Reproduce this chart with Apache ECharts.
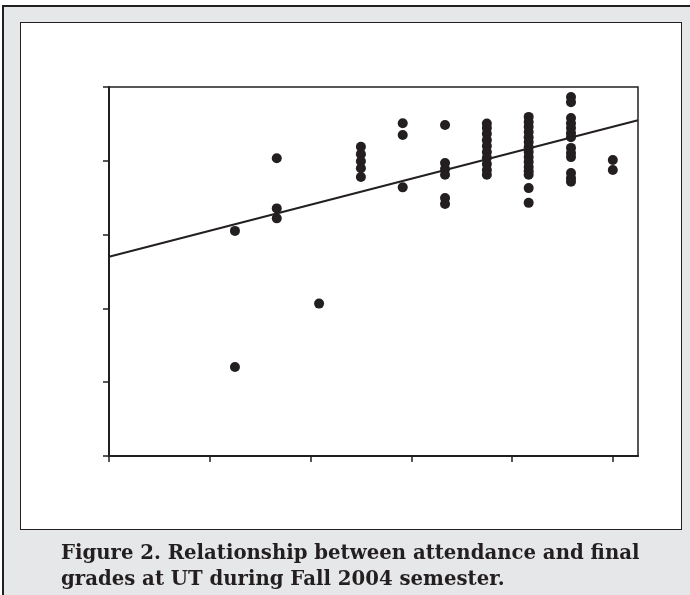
<!DOCTYPE html>
<html>
<head>
<meta charset="utf-8">
<script src="https://cdn.jsdelivr.net/npm/echarts@6/dist/echarts.min.js"></script>
<style>
  html, body { margin: 0; padding: 0; background: #fff; }
  #page { position: relative; width: 690px; height: 595px; overflow: hidden; }
  .outer { position: absolute; left: 2px; top: 5px; width: 720px; height: 720px;
           background: #e6e7e8; border: 2px solid #231f20; box-sizing: border-box; }
  .inner { position: absolute; left: 20px; top: 22px; width: 662px; height: 508px;
           background: #fff; border: 1.5px solid #231f20; box-sizing: border-box; }
  #chart { position: absolute; left: 0; top: 0; width: 690px; height: 595px; }
  .caption { position: absolute; left: 61px; top: 540px; color: #231f20;
             font-family: "DejaVu Serif", serif; font-weight: bold; font-size: 19.7px;
             line-height: 26px; white-space: nowrap; }
</style>
</head>
<body>
<div id="page">
  <div class="outer"></div>
  <div class="inner"></div>
  <div id="chart"></div>
  <div class="caption">Figure 2. Relationship between attendance and final<br>grades at UT during Fall 2004 semester.</div>
</div>
<script>
// attendance (%) for each column of dots
const attendance = [25, 33.3, 41.7, 50, 58.3, 66.7, 75, 83.3, 91.7, 100]

// final grades, one list per attendance column
const grades25 = [61.0, 24.1]
const grades33 = [80.7, 67.1, 64.4]
const grades42 = [41.3]
const grades50 = [83.8, 81.8, 79.9, 78.0, 75.6]
const grades58 = [90.2, 87.0, 72.8]
const grades67 = [89.7, 79.4, 77.8, 76.2, 69.9, 68.3]
const grades75 = [90.1, 88.9, 87.3, 85.6, 84.0, 82.4, 80.8, 79.1, 77.5, 76.2]
const grades83 = [91.9, 90.5, 89.2, 87.8, 86.4, 85.1, 83.7, 82.4, 81.0, 79.7, 78.3, 77.2, 76.2, 72.6, 68.6]
const grades92 = [97.3, 95.9, 91.6, 90.2, 88.9, 87.5, 86.4, 83.5, 82.1, 81.0, 76.7, 75.3, 74.3]
const grades100 = [80.2, 77.5]

// trend line end points
const trendX = [0, 105]
const trendY = [54.0, 91.0]

const xTicks = [0, 20, 40, 60, 80, 100]

const gradeColumns = [grades25, grades33, grades42, grades50, grades58,
  grades67, grades75, grades83, grades92, grades100]

const points = []
gradeColumns.forEach((col, i) => {
  col.forEach(g => points.push([attendance[i], g]))
})

const ink = '#231f20'
const chart = echarts.init(document.getElementById('chart'))

const option = {
  animation: false,
  backgroundColor: 'transparent',
  grid: {
    left: 109,
    top: 87,
    width: 529,
    height: 369,
    show: true,
    borderColor: ink,
    borderWidth: 1.5,
    backgroundColor: 'transparent'
  },
  xAxis: {
    type: 'value',
    min: 0,
    max: 105,
    interval: 20,
    axisLine: { show: true, lineStyle: { color: ink, width: 2 } },
    axisTick: { show: true, length: 6, customValues: xTicks, lineStyle: { color: ink, width: 1.5 } },
    axisLabel: { show: false },
    splitLine: { show: false }
  },
  yAxis: {
    type: 'value',
    min: 0,
    max: 100,
    interval: 20,
    axisLine: { show: true, lineStyle: { color: ink, width: 2 } },
    axisTick: { show: true, length: 6, lineStyle: { color: ink, width: 1.5 } },
    axisLabel: { show: false },
    splitLine: { show: false }
  },
  series: [
    {
      type: 'line',
      data: trendX.map((x, i) => [x, trendY[i]]),
      showSymbol: false,
      lineStyle: { color: ink, width: 2 },
      z: 3
    },
    {
      type: 'scatter',
      data: points,
      symbol: 'circle',
      symbolSize: 10,
      itemStyle: { color: ink, opacity: 1 },
      z: 4
    }
  ]
}

chart.setOption(option)
</script>
</body>
</html>
